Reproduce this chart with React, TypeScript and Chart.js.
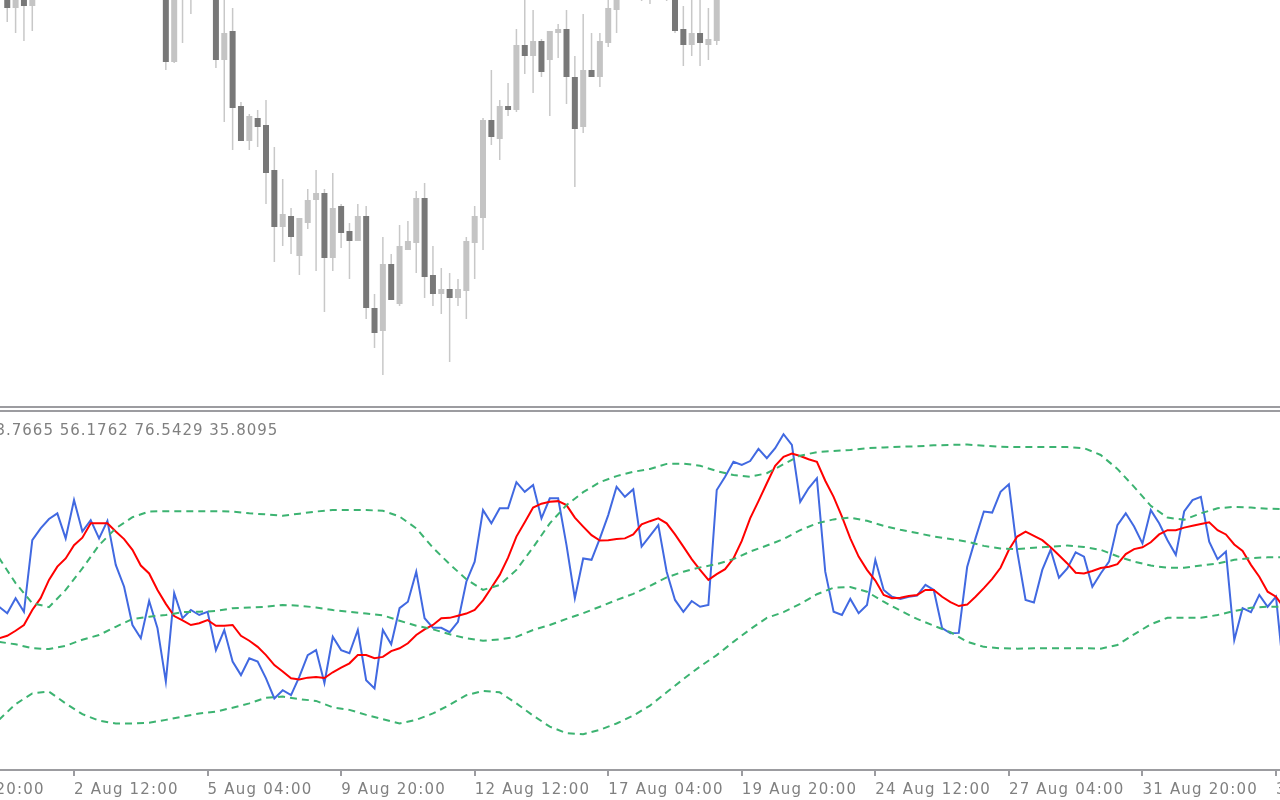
import React, { useEffect, useRef } from 'react';
import { Chart, registerables } from 'chart.js';

Chart.register(...registerables);

// ---------- price panel (H4 candles, bar index = position on the time axis) ----------
const candleOpen = [412, 415, 398, 412, 400,
  null, null, null, null, null, null, null, null, null, null, null, null, null, null, null,
  430, 344, 410, 415, null, null,
  420, 346, 375, 300, 265, 288, 281, 236, 179, 190, 150, 183, 206, 213, 148, 200, 175, 165, 190, 98, 75, 142, 102, 156,
  163, 208, 131, 112, 117, 108, 115, 163, 188, 286, 267, 300, 296, 361, 350, 365, 346, 373, 377, 329, 279, 336, 329, 363, 396,
  null, null, 415, 412, null, 412, 420, 377, 361, 373, 361, 365];
const candleHigh = [430, 425, 422, 420, 425,
  null, null, null, null, null, null, null, null, null, null, null, null, null, null, null,
  440, 440, 430, 435, null, null,
  430, 415, 398, 304, 292, 296, 306, 259, 227, 198, 188, 217, 236, 217, 233, 202, 183, 202, 200, 112, 169, 152, 181, 185,
  215, 223, 160, 138, 133, 127, 169, 200, 288, 336, 306, 323, 377, 410, 396, 367, 375, 382, 396, 350, 392, 373, 373, 412, 425,
  null, null, 430, 428, null, 425, 430, 400, 410, 410, 398, 430];
const candleLow = [375, 384, 373, 365, 375,
  null, null, null, null, null, null, null, null, null, null, null, null, null, null, null,
  336, 343, 363, 392, null, null,
  338, 284, 256, 265, 256, 259, 202, 144, 160, 152, 131, 177, 135, 94, 135, 158, 127, 165, 87, 58, 31, 106, 100, 156,
  133, 108, 100, 92, 44, 100, 87, 127, 156, 261, 246, 290, 294, 332, 313, 329, 290, 348, 302, 219, 273, 329, 319, 359, 373,
  null, null, 405, 402, null, 405, 373, 340, 350, 340, 346, 361];
const candleClose = [420, 398, 412, 400, 415,
  null, null, null, null, null, null, null, null, null, null, null, null, null, null, null,
  344, 425, 420, 425, null, null,
  346, 373, 298, 265, 290, 279, 233, 179, 192, 169, 188, 206, 213, 148, 198, 173, 165, 190, 98, 73, 142, 106, 160, 165,
  208, 129, 112, 117, 108, 117, 165, 190, 286, 269, 300, 296, 361, 350, 365, 334, 375, 377, 329, 277, 336, 329, 365, 398, 415,
  null, null, 425, 420, null, 418, 375, 361, 373, 363, 367, 420];

// ---------- indicator panel ----------
const indicatorLine = [45.6, 43.8, 48.0, 44.2, 64.2, 67.5, 70.1, 71.7, 64.7, 75.4,
  66.6, 69.8, 64.7, 69.6, 57.3, 51.2, 40.5, 36.8, 47.2, 39.6,
  24.7, 49.4, 42.4, 44.7, 43.3, 44.2, 33.5, 39.1, 30.3, 26.5,
  31.2, 30.3, 25.6, 20.0, 22.3, 20.9, 26.1, 32.1, 33.5, 24.3,
  37.2, 33.5, 32.6, 39.1, 25.1, 22.8, 39.1, 35.1, 45.2, 47.0,
  55.4, 42.4, 39.7, 39.7, 38.5, 41.4, 52.6, 58.2, 72.6, 68.9,
  73.1, 73.1, 80.4, 77.7, 79.6, 70.3, 75.9, 75.9, 62.8, 48.0,
  59.1, 58.7, 64.7, 71.2, 79.1, 76.3, 78.4, 62.4, 65.4, 68.4,
  55.4, 47.5, 44.2, 47.2, 45.6, 46.1, 78.2, 81.9, 86.1, 85.2,
  86.3, 89.7, 87.1, 89.9, 93.8, 90.8, 74.9, 78.7, 81.5, 55.4,
  44.2, 43.3, 47.8, 43.8, 46.1, 58.7, 50.3, 48.4, 47.8, 48.4,
  48.7, 51.7, 50.3, 39.6, 38.2, 38.3, 56.7, 64.7, 72.2, 71.9,
  77.7, 79.8, 61.0, 47.5, 46.8, 55.9, 61.5, 53.7, 56.3, 60.8,
  59.6, 51.2, 54.9, 58.2, 68.4, 71.7, 68.0, 63.3, 72.6, 68.9,
  64.2, 60.1, 72.2, 75.4, 76.3, 63.8, 58.9, 61.0, 36.3, 45.2,
  44.1, 48.9, 45.6, 48.4, 25.1];

const signalLine = [36.8, 37.5, 38.9, 40.5, 44.7, 48.0, 53.1, 56.8, 59.1, 62.8,
  64.9, 68.9, 68.9, 68.9, 66.6, 64.5, 61.5, 57.1, 54.9, 50.3,
  46.4, 43.0, 41.8, 40.5, 41.0, 41.9, 40.3, 40.3, 40.5, 37.5,
  36.1, 34.4, 32.1, 29.3, 27.5, 25.6, 25.3, 25.8, 26.0, 25.7,
  27.3, 28.6, 29.8, 32.1, 32.1, 31.2, 31.6, 33.2, 34.0, 35.4,
  37.7, 39.3, 40.5, 42.4, 42.5, 43.1, 43.7, 44.7, 47.4, 50.9,
  54.5, 59.3, 65.2, 69.2, 73.3, 74.4, 74.9, 75.1, 74.0, 70.5,
  68.0, 65.6, 64.1, 64.2, 64.5, 64.7, 65.8, 68.6, 69.5, 70.3,
  68.9, 65.8, 62.4, 58.9, 55.9, 53.1, 54.7, 56.1, 59.1, 64.0,
  70.3, 75.1, 80.1, 85.0, 87.5, 88.4, 87.7, 86.8, 86.1, 80.8,
  76.3, 70.8, 64.7, 59.6, 55.9, 52.9, 48.9, 48.0, 48.1, 48.6,
  48.9, 50.3, 50.3, 48.4, 46.9, 45.8, 46.2, 48.4, 50.8, 53.4,
  56.5, 61.5, 65.2, 66.6, 65.4, 64.2, 62.2, 60.0, 57.7, 55.1,
  54.9, 55.6, 56.4, 56.8, 57.5, 60.3, 61.7, 62.2, 63.6, 65.8,
  67.0, 67.0, 67.7, 68.2, 68.7, 69.2, 67.0, 65.8, 63.0, 61.2,
  57.3, 54.0, 49.8, 48.4, 45.2];

// Bollinger bands read at every second bar (bars 0, 2, 4, ... 154)
const upperBand = [59.3, 52.2, 46.6, 45.5, 50.3, 56.3, 62.8, 67.5, 70.6, 72.2,
  72.3, 72.3, 72.3, 72.3, 72.2, 71.7, 71.4, 71.0, 71.6, 72.2,
  72.6, 72.6, 72.6, 72.4, 70.8, 67.5, 62.1, 57.5, 53.3, 50.3,
  51.7, 55.9, 62.2, 68.9, 74.0, 77.6, 80.4, 82.1, 83.3, 84.1,
  85.5, 85.6, 85.0, 83.5, 82.4, 81.9, 82.9, 85.4, 87.8, 88.8,
  89.1, 89.4, 89.9, 90.1, 90.3, 90.4, 90.7, 90.8, 90.9, 90.6,
  90.3, 90.2, 90.2, 90.2, 90.2, 89.9, 88.0, 84.1, 79.1, 73.8,
  70.5, 69.9, 71.7, 73.1, 73.5, 73.3, 73.0, 72.9];
const middleBand = [35.8, 35.1, 34.0, 33.8, 34.7, 36.4, 37.7, 40.0, 42.2, 42.8,
  43.3, 44.1, 44.2, 44.4, 45.2, 45.4, 45.6, 46.1, 45.9, 45.4,
  44.7, 44.2, 43.7, 43.2, 41.7, 40.3, 39.3, 37.9, 36.8, 36.1,
  36.5, 37.2, 39.1, 40.5, 42.2, 43.8, 45.6, 47.5, 49.2, 51.4,
  53.8, 55.4, 56.6, 57.5, 58.9, 61.0, 62.7, 64.5, 67.0, 68.9,
  70.0, 70.5, 69.6, 68.2, 67.1, 66.2, 65.2, 64.5, 63.8, 62.6,
  61.9, 61.7, 62.1, 62.4, 62.7, 62.3, 61.5, 59.7, 58.2, 57.1,
  56.5, 56.5, 57.1, 57.7, 58.7, 59.2, 59.4, 59.4];
const lowerBand = [14.0, 18.4, 21.4, 21.9, 18.6, 15.6, 13.8, 13.0, 13.0, 13.2,
  14.0, 14.9, 15.8, 16.3, 17.4, 18.6, 20.2, 20.5, 19.8, 19.3,
  17.5, 16.8, 15.4, 14.2, 13.0, 14.0, 15.8, 18.2, 20.9, 22.1,
  21.7, 18.6, 15.2, 12.1, 10.3, 10.0, 11.2, 13.0, 15.2, 18.0,
  21.7, 25.4, 28.9, 32.1, 35.8, 39.3, 42.5, 44.1, 46.4, 49.1,
  50.9, 51.1, 49.8, 47.0, 44.5, 42.2, 40.3, 38.5, 35.8, 34.4,
  34.0, 33.9, 34.0, 34.0, 34.0, 34.0, 33.9, 34.9, 37.9, 40.7,
  42.5, 42.5, 42.5, 43.3, 44.4, 45.3, 45.6, 45.6];

// time axis labels (every 16 bars)
const labelBars = [-7, 9, 25, 41, 57, 73, 89, 105, 121, 137, 153];
const timeLabels = ['30 Jul 20:00', '2 Aug 12:00', '5 Aug 04:00', '9 Aug 20:00', '12 Aug 12:00',
  '17 Aug 04:00', '19 Aug 20:00', '24 Aug 12:00', '27 Aug 04:00', '31 Aug 20:00', '3 Sep 12:00'];

const indicatorLead = '3.7665 ';
const indicatorRest = '56.1762 76.5429 35.8095';

const X_MIN = 0.132;
const X_MAX = 153.48;

const BULL = '#c4c4c4';
const BEAR = '#787878';
const WICK = '#c8c8c8';
const AXIS = '#9c9ca0';
const TEXT = '#808080';
const GREEN = '#3cb371';
const FONT = "'DejaVu Sans', sans-serif";

const spacingPlugin = {
  id: 'letterSpacing',
  beforeDraw(chart: any) {
    chart.ctx.letterSpacing = '1.2px';
  },
};

const valuesTextPlugin = {
  id: 'valuesText',
  afterDraw(chart: any) {
    const ctx = chart.ctx;
    ctx.save();
    ctx.font = `15px ${FONT}`;
    ctx.fillStyle = TEXT;
    ctx.letterSpacing = '1px';
    ctx.textAlign = 'left';
    ctx.textBaseline = 'alphabetic';
    const lead = ctx.measureText(indicatorLead).width;
    const startRest = 60.7;
    ctx.fillText(indicatorLead + indicatorRest, startRest - lead - 1, 23);
    ctx.restore();
  },
};

export default function App() {
  const topRef = useRef<HTMLCanvasElement>(null);
  const botRef = useRef<HTMLCanvasElement>(null);

  useEffect(() => {
    const idx: number[] = [];
    candleOpen.forEach((v, i) => { if (v !== null) idx.push(i); });
    const bodies = idx.map(i => ({ x: i, y: [candleOpen[i] as number, candleClose[i] as number] }));
    const wicks = idx.map(i => ({ x: i, y: [candleLow[i] as number, candleHigh[i] as number] }));
    const bodyColors = idx.map(i => ((candleClose[i] as number) < (candleOpen[i] as number) ? BEAR : BULL));

    const xHidden: any = { type: 'linear', min: X_MIN, max: X_MAX, display: false, offset: false, bounds: 'data' };

    const top = new Chart(topRef.current!, {
      type: 'bar',
      data: {
        datasets: [
          { label: 'Body', data: bodies as any, backgroundColor: bodyColors, barThickness: 6, grouped: false, borderWidth: 0, inflateAmount: 0 } as any,
          { label: 'Wick', data: wicks as any, backgroundColor: WICK, barThickness: 1.5, grouped: false, borderWidth: 0, inflateAmount: 0 } as any,
        ],
      },
      options: {
        responsive: false,
        animation: false,
        devicePixelRatio: 1,
        events: [],
        layout: { padding: 0 },
        plugins: { legend: { display: false }, tooltip: { enabled: false } },
        scales: {
          x: xHidden,
          y: { type: 'linear', min: 0, max: 406, display: false },
        },
      } as any,
    });

    const line = (data: { x: number; y: number }[], color: string, dash: number[] = []) => ({
      data, borderColor: color, borderWidth: 2, borderDash: dash, pointRadius: 0, fill: false, tension: 0,
    });

    const bot = new Chart(botRef.current!, {
      type: 'line',
      data: {
        datasets: [
          { label: 'Upper', ...line(upperBand.map((v, k) => ({ x: 2 * k, y: v })), GREEN, [7, 5]) },
          { label: 'Middle', ...line(middleBand.map((v, k) => ({ x: 2 * k, y: v })), GREEN, [7, 5]) },
          { label: 'Lower', ...line(lowerBand.map((v, k) => ({ x: 2 * k, y: v })), GREEN, [7, 5]) },
          { label: 'Signal', ...line(signalLine.map((v, i) => ({ x: i, y: v })), '#ff0000') },
          { label: 'Main', ...line(indicatorLine.map((v, i) => ({ x: i, y: v })), '#4169e1') },
        ] as any,
      },
      options: {
        responsive: false,
        animation: false,
        devicePixelRatio: 1,
        events: [],
        layout: { padding: 0 },
        plugins: { legend: { display: false }, tooltip: { enabled: false } },
        scales: {
          x: {
            type: 'linear',
            min: X_MIN,
            max: X_MAX,
            offset: false,
            bounds: 'data',
            afterBuildTicks: (axis: any) => {
              axis.ticks = labelBars.map(v => ({ value: v }));
            },
            afterFit: (axis: any) => {
              axis.height = 30;
              axis.paddingLeft = 0;
              axis.paddingRight = 0;
            },
            grid: { display: true, drawOnChartArea: false, drawTicks: true, tickLength: 6, color: AXIS, lineWidth: 2 },
            border: { display: true, color: AXIS, width: 2 },
            ticks: {
              autoSkip: false,
              maxRotation: 0,
              minRotation: 0,
              align: 'start',
              padding: 5,
              color: TEXT,
              font: { family: FONT, size: 15 },
              callback: (value: any) => {
                const k = labelBars.indexOf(Number(value));
                return k >= 0 ? timeLabels[k] : '';
              },
            },
          },
          y: { type: 'linear', min: 0, max: 100, display: false },
        },
      } as any,
      plugins: [spacingPlugin, valuesTextPlugin],
    });

    return () => {
      top.destroy();
      bot.destroy();
    };
  }, []);

  return (
    <div style={{ position: 'absolute', left: 0, top: 0, width: 1280, height: 800, background: '#ffffff', overflow: 'hidden' }}>
      <canvas ref={topRef} width={1280} height={406} style={{ position: 'absolute', left: 0, top: 0, display: 'block' }} />
      <div style={{ position: 'absolute', left: 0, top: 406, width: 1280, height: 2, background: AXIS }} />
      <div style={{ position: 'absolute', left: 0, top: 410, width: 1280, height: 2, background: AXIS }} />
      <canvas ref={botRef} width={1280} height={388} style={{ position: 'absolute', left: 0, top: 412, display: 'block' }} />
    </div>
  );
}
